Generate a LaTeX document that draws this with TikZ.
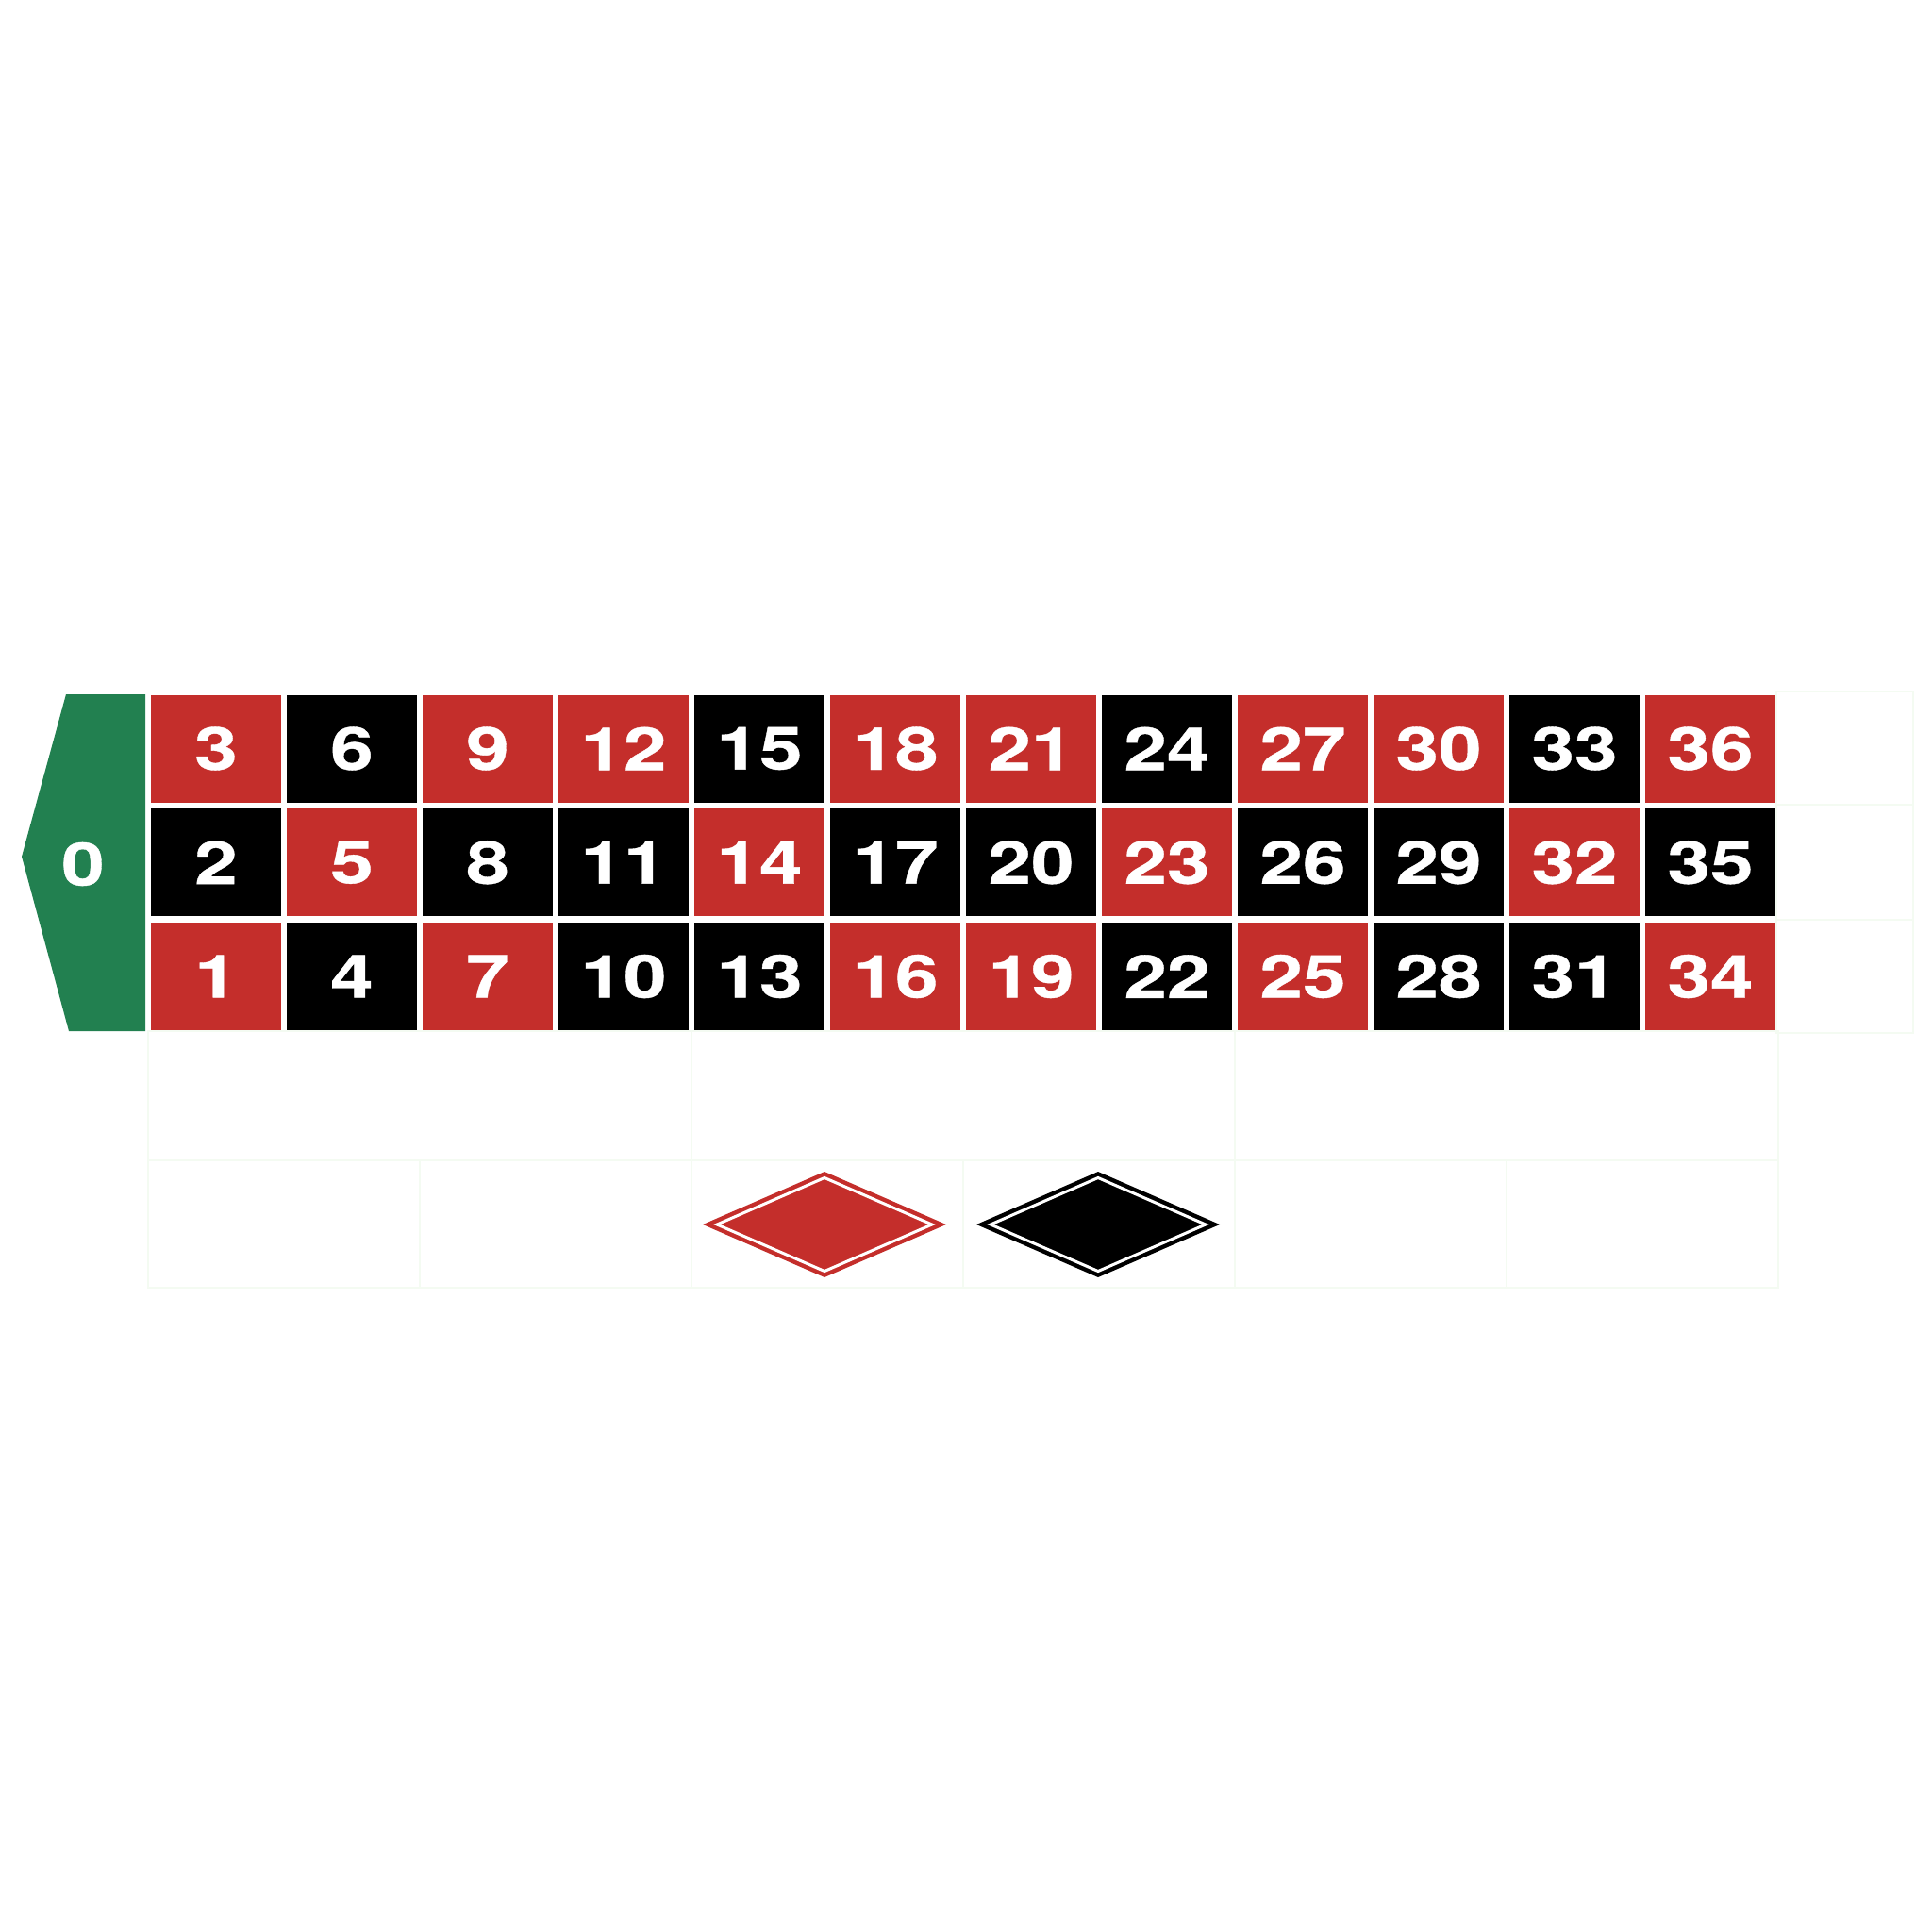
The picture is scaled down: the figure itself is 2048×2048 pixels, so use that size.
\documentclass[tikz,border=0pt]{standalone}
\usepackage{fontspec}
\newfontfamily\numfont[FakeStretch=1.3,FakeBold=0.6]{TeX Gyre Heros}
\definecolor{rd}{RGB}{196,46,43}
\definecolor{bk}{RGB}{0,0,0}
\definecolor{gn}{RGB}{34,128,80}
\definecolor{faint}{RGB}{244,251,242}
\begin{document}
\begin{tikzpicture}[x=1pt,y=-1pt,
  cell/.style={rectangle,minimum width=138pt,minimum height=114pt,inner sep=0pt,
    text=white,font=\numfont\bfseries\fontsize{63}{63}\selectfont},
  faintline/.style={draw=faint,line width=1.5pt},
  diamondwhite/.style={draw=white,line width=3pt,line join=miter}]
\useasboundingbox (0,0) rectangle (2048,2048);
\fill[white] (0,0) rectangle (2048,2048);
% faint outline regions
\draw[faintline] (1883,733) rectangle (2028,853);
\draw[faintline] (1883,853) rectangle (2028,975);
\draw[faintline] (1883,975) rectangle (2028,1095);
\draw[faintline] (157,1093) rectangle (1885,1365);
\draw[faintline] (157,1230) -- (1885,1230);
\foreach \xx in {733,1309} \draw[faintline] (\xx,1093) -- (\xx,1230);
\foreach \xx in {445,733,1021,1309,1597} \draw[faintline] (\xx,1230) -- (\xx,1365);
% zero
\fill[gn] (70,736) -- (154,736) -- (154,1093) -- (73,1093) -- (23,908) -- cycle;
\node[cell,minimum width=60pt] (z0) at (88,916) {0};
% numbers
\foreach \n/\c in {1/rd,2/bk,3/rd,4/bk,5/rd,6/bk,7/rd,8/bk,9/rd,10/bk,11/bk,12/rd,13/bk,14/rd,15/bk,16/rd,17/bk,18/rd,19/rd,20/bk,21/rd,22/bk,23/rd,24/bk,25/rd,26/bk,27/rd,28/bk,29/bk,30/rd,31/bk,32/rd,33/bk,34/rd,35/bk,36/rd}{
  \pgfmathtruncatemacro\col{(\n-1)/3}
  \pgfmathtruncatemacro\row{2-mod(\n-1,3)}
  \node[cell,fill=\c] (c\n) at ({160+144*\col+69},{736.5+120.75*\row+57}) {\n};
}
% diamonds
\coordinate (dr) at (874,1298);
\coordinate (db) at (1164,1298);
\fill[rd] ([xshift=-129pt]dr) -- ([yshift=-56pt]dr) -- ([xshift=129pt]dr) -- ([yshift=56pt]dr) -- cycle;
\draw[diamondwhite] ([xshift=-114pt]dr) -- ([yshift=-49.5pt]dr) -- ([xshift=114pt]dr) -- ([yshift=49.5pt]dr) -- cycle;
\fill[bk] ([xshift=-129pt]db) -- ([yshift=-56pt]db) -- ([xshift=129pt]db) -- ([yshift=56pt]db) -- cycle;
\draw[diamondwhite] ([xshift=-114pt]db) -- ([yshift=-49.5pt]db) -- ([xshift=114pt]db) -- ([yshift=49.5pt]db) -- cycle;
\end{tikzpicture}
\end{document}
